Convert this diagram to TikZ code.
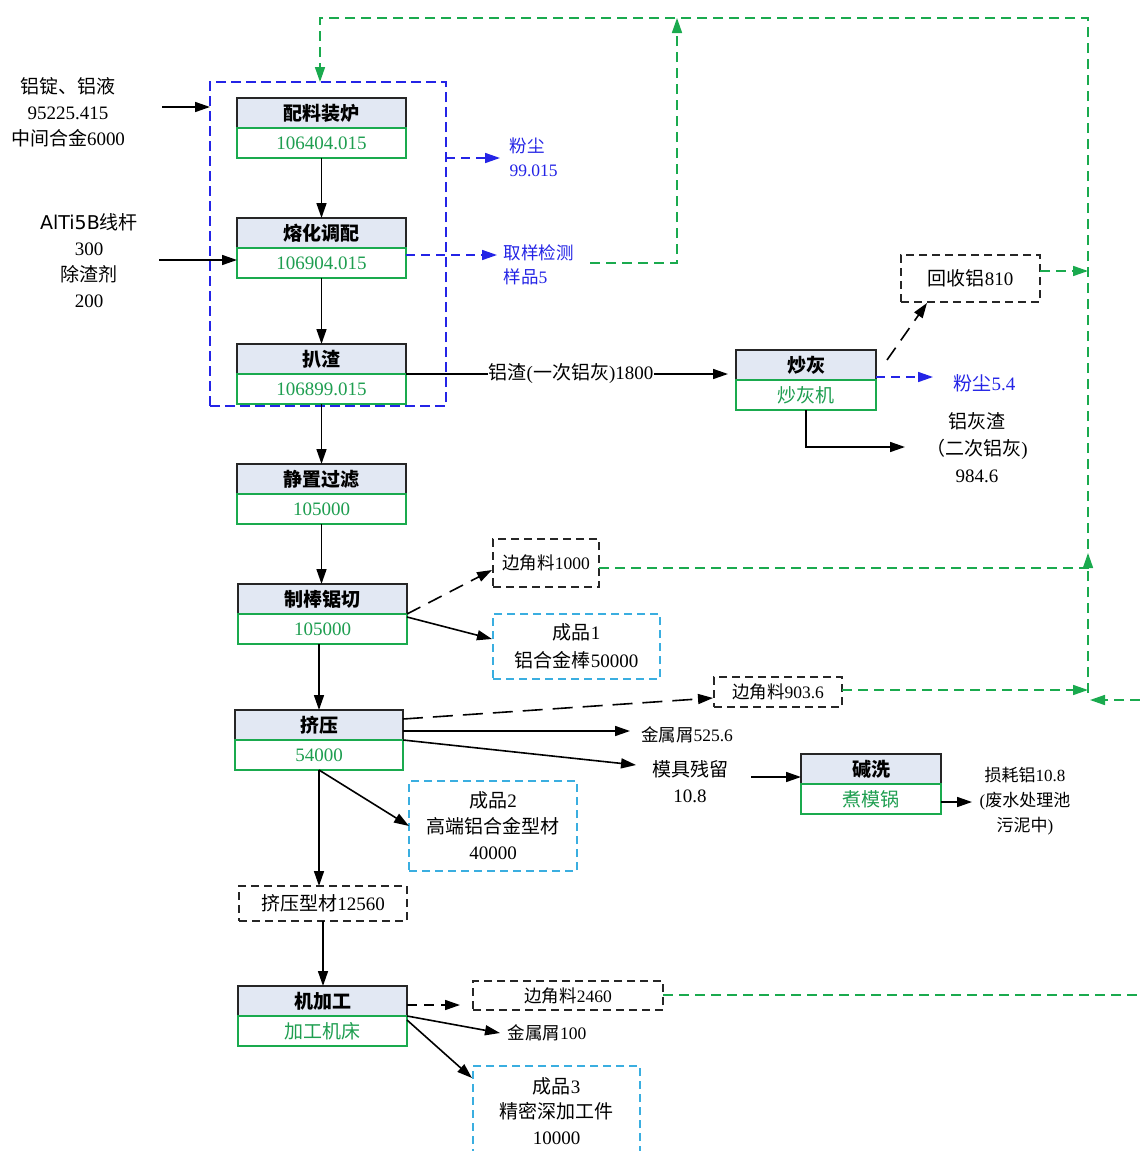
\documentclass[tikz,border=0pt]{standalone}
\usepackage{fontspec}
\setmainfont{Liberation Serif}
\newfontfamily\cjkf{Noto Sans CJK SC}
\newfontfamily\dejaf{DejaVu Sans}
\newcommand\zh[1]{{\cjkf #1}}
\usetikzlibrary{arrows.meta}
\definecolor{hdrfill}{HTML}{E2E8F3}
\definecolor{gtxt}{HTML}{1E9E50}
\definecolor{glinec}{HTML}{1AAA4E}
\definecolor{blinec}{HTML}{2424E6}
\definecolor{clinec}{HTML}{3AAEE0}
\newcommand\procbox[6]{%
  \node[hdr, minimum width=#4pt, anchor=north] (#1h) at (#2,#3) {#5};
  \node[val, minimum width=#4pt, anchor=north] (#1v) at (#1h.south) {#6};}
\begin{document}
\begin{tikzpicture}[x=1pt,y=-1pt,
  font=\fontsize{19}{26}\selectfont,
  lw/.style={line width=1.6pt},
  tipA/.style={-{Triangle[length=15pt,width=10pt]}},
  arr/.style={lw, draw=black, tipA},
  darr/.style={arr, dash pattern=on 15pt off 9pt},
  barr/.style={lw, draw=blinec, dash pattern=on 9pt off 6pt, tipA},
  garr/.style={lw, draw=glinec, dash pattern=on 10pt off 6pt, tipA},
  gdash/.style={lw, draw=glinec, dash pattern=on 10pt off 6pt},
  hdr/.style={draw=black!85, fill=hdrfill, lw, minimum height=30pt, inner sep=0pt, outer sep=0pt, font=\fontsize{19}{22}\selectfont\cjkf\bfseries},
  val/.style={draw=glinec, lw, minimum height=30pt, inner sep=0pt, outer sep=0pt, text=gtxt},
  dbox/.style={draw=black!85, lw, dash pattern=on 8pt off 5pt, inner sep=0pt, outer sep=0pt, align=center},
  cbox/.style={dbox, draw=clinec},
  btxt/.style={text=blinec, font=\fontsize{17.5}{24}\selectfont, align=left},
  small/.style={font=\fontsize{17.5}{25}\selectfont},
]
\useasboundingbox (0,0) rectangle (1140,1151);
\fill[white] (0,0) rectangle (1140,1151);

% group box
\node[draw=blinec, lw, dash pattern=on 10pt off 5pt, minimum width=236pt, minimum height=324pt, inner sep=0pt, outer sep=0pt] (grp) at (328,244) {};

% process boxes
\procbox{p1}{321.5}{98}{169}{配料装炉}{106404.015}
\procbox{p2}{321.5}{218}{169}{熔化调配}{106904.015}
\procbox{p3}{321.5}{344}{169}{扒渣}{106899.015}
\procbox{p4}{321.5}{464}{169}{静置过滤}{105000}
\procbox{p5}{322.5}{584}{169}{制棒锯切}{105000}
\procbox{p6}{319}{710}{168}{挤压}{54000}
\procbox{p7}{322.5}{986}{169}{机加工}{\zh{加工机床}}
\procbox{p8}{806}{350}{140}{炒灰}{\zh{炒灰机}}
\procbox{p9}{871}{754}{140}{碱洗}{\zh{煮模锅}}

% dashed boxes
\node[dbox, minimum width=139pt, minimum height=47pt] (b1) at (970.5,278.5) {\zh{回收铝}810};
\node[dbox, small, minimum width=106pt, minimum height=48pt] (b2) at (546,563) {\zh{边角料}1000};
\node[cbox, font=\fontsize{19}{28}\selectfont, minimum width=167pt, minimum height=65pt] (b3) at (576.5,646.5) {\zh{成品}1\\\zh{铝合金棒}50000};
\node[dbox, small, minimum width=128pt, minimum height=30pt] (b4) at (778,692) {\zh{边角料}903.6};
\node[cbox, minimum width=168pt, minimum height=90pt] (b5) at (493,826) {\zh{成品}2\\\zh{高端铝合金型材}\\40000};
\node[dbox, minimum width=168pt, minimum height=35pt] (b6) at (323,903.5) {\zh{挤压型材}12560};
\node[dbox, small, minimum width=190pt, minimum height=29pt] (b7) at (568,995.5) {\zh{边角料}2460};
\node[cbox, font=\fontsize{19}{25.5}\selectfont, minimum width=167pt, minimum height=90pt] (b8) at (556.5,1111) {\zh{成品}3\\\zh{精密深加工件}\\10000};

% texts
\node[align=center] (in1) at (68,112) {\zh{铝锭、铝液}\\95225.415\\\zh{中间合金}6000};
\node[align=center] (in2) at (89,260.5) {{\dejaf AlTi5B}\zh{线杆}\\300\\\zh{除渣剂}\\200};
\node[btxt, anchor=west] (dust1) at (506,157) {\zh{粉尘}\\99.015};
\node[btxt, anchor=west] (samp) at (500,265) {\zh{取样检测}\\\zh{样品}5};
\node[btxt, font=\fontsize{19}{24}\selectfont, anchor=west] (dust2) at (950,383) {\zh{粉尘}5.4};
\node[align=center, font=\fontsize{19}{27}\selectfont] (ash) at (977,448) {\zh{铝灰渣}\\\zh{（二次铝灰})\\984.6};
\node[small] (chips1) at (687,735) {\zh{金属屑}525.6};
\node[align=center] (mold) at (690,782) {\zh{模具残留}\\10.8};
\node[align=center, font=\fontsize{17}{25}\selectfont] (loss) at (1025,801) {\zh{损耗铝}10.8\\(\zh{废水处理池}\\\zh{污泥中})};
\node[small] (chips2) at (547,1033) {\zh{金属屑}100};

% coordinates for free ends
\coordinate (a1) at (162,107);
\coordinate (a2) at (159,260);
\coordinate (d1) at (500,158);
\coordinate (s1) at (497,255);
\coordinate (g1) at (590,263);
\coordinate (g2) at (677,18);
\coordinate (T) at (320,18);
\coordinate (Rb) at (1088,693);
\coordinate (R271) at (1088,271);
\coordinate (R568) at (1088,568);
\coordinate (R555) at (1088,553);
\coordinate (R690) at (1088,690);
\coordinate (E700) at (1140,700);
\coordinate (R700) at (1090,700);
\coordinate (E995) at (1140,995);
\coordinate (c1) at (887,360);
\coordinate (c2) at (927,303);
\coordinate (d2) at (933,377);
\coordinate (ashin) at (905,447);
\coordinate (q2) at (492,570);
\coordinate (q3) at (492,639);
\coordinate (q4) at (713,698);
\coordinate (q5) at (630,731);
\coordinate (q6) at (636,765);
\coordinate (q7) at (751,777);
\coordinate (q8) at (972,802);
\coordinate (q9) at (460,1005);
\coordinate (q10) at (500,1033);
\coordinate (q11) at (472,1078);

% inputs
\draw[arr] (a1) -- (a1 -| grp.west);
\draw[arr] (a2) -- (a2 -| p2v.west);

% main vertical flow
\draw[arr] (p1v.south) -- (p2h.north);
\draw[arr] (p2v.south) -- (p3h.north);
\draw[arr] (p3v.south) -- (p4h.north);
\draw[arr] (p4v.south) -- (p4v.south |- p5h.north);
\draw[arr] (p6h.north |- p5v.south) -- (p6h.north);
\draw[arr] (p6v.south) -- (p6v.south |- b6.north);
\draw[arr] (b6.south) -- (b6.south |- p7h.north);

% blue dashed
\draw[barr] (d1 -| grp.east) -- (d1);
\draw[barr] (s1 -| p2v.east) -- (s1);
\draw[barr] (d2 -| p8h.east) -- (d2);

% green recycle lines
\draw[garr] (g1) -| (g2);
\draw[garr] (Rb) |- (T) -- (T |- grp.north);
\draw[garr] (b1.east |- R271) -- (R271);
\draw[gdash] (b2.east |- R568) -- (R568);
\draw[lw, draw=glinec, tipA] (R568) -- (R555);
\draw[garr] (b4.east |- R690) -- (R690);
\draw[garr] (E700) -- (R700);
\draw[gdash] (b7.east |- E995) -- (E995);

% slag to 炒灰
\draw[arr, shorten >=8pt] (p3h.south east) -- (p3h.south east -| p8h.west)
  node[midway, fill=white, inner sep=1pt] {\zh{铝渣}(\zh{一次铝灰})1800};
\draw[darr] (c1) -- (c2);
\draw[arr] (p8v.south) |- (ashin);

% 制棒锯切
\draw[darr] (p5h.south east) -- (q2);
\draw[arr] ([yshift=-3pt]p5h.south east) -- (q3);

% 挤压
\draw[lw, dash pattern=on 20pt off 10pt, tipA] ([yshift=6pt]p6h.east) -- (q4);
\draw[arr] ([yshift=-6pt]p6h.east) -- (q5);
\draw[arr] (p6h.south east) -- (q6);
\draw[arr] (p6v.south) -- (b5.west);
\draw[arr] (q7) -- (q7 -| p9h.west);
\draw[arr] (q8 -| p9v.east) -- (q8);

% 机加工
\draw[lw, dash pattern=on 10pt off 7pt, tipA] (q9 -| p7h.east) -- (q9);
\draw[arr] (p7h.south east) -- (q10);
\draw[arr] ([yshift=-4pt]p7h.south east) -- (q11);
\end{tikzpicture}
\end{document}
